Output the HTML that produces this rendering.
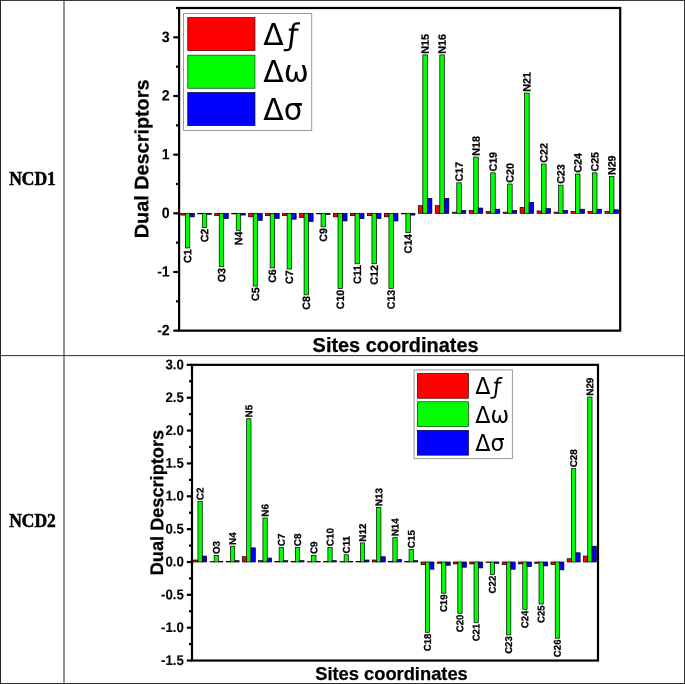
<!DOCTYPE html><html><head><meta charset="utf-8"><title>Dual Descriptors</title>
<style>html,body{margin:0;padding:0;background:#fff}svg{display:block}</style></head><body>
<svg width="685" height="684" viewBox="0 0 685 684">
<rect width="685" height="684" fill="#fff"/>
<rect x="180.80" y="213.32" width="4.52" height="1.76" fill="#f00" stroke="#000" stroke-width="0.7"/>
<rect x="185.32" y="213.32" width="4.52" height="34.61" fill="#0f0" stroke="#000" stroke-width="0.7"/>
<rect x="189.84" y="213.32" width="4.52" height="3.52" fill="#00f" stroke="#000" stroke-width="0.7"/>
<text transform="translate(191.27,249.23) rotate(-89.9) scale(1,1)" style="font-family:'Liberation Sans',sans-serif;font-weight:bold;stroke:#000;stroke-width:0.25px;font-size:10.7px" text-anchor="end">C1</text>
<rect x="197.76" y="213.32" width="4.52" height="0.59" fill="#f00" stroke="#000" stroke-width="0.7"/>
<rect x="202.29" y="213.32" width="4.52" height="14.08" fill="#0f0" stroke="#000" stroke-width="0.7"/>
<rect x="206.81" y="213.32" width="4.52" height="1.17" fill="#00f" stroke="#000" stroke-width="0.7"/>
<text transform="translate(208.24,228.70) rotate(-89.9) scale(1,1)" style="font-family:'Liberation Sans',sans-serif;font-weight:bold;stroke:#000;stroke-width:0.25px;font-size:10.7px" text-anchor="end">C2</text>
<rect x="214.73" y="213.32" width="4.52" height="2.35" fill="#f00" stroke="#000" stroke-width="0.7"/>
<rect x="219.25" y="213.32" width="4.52" height="53.38" fill="#0f0" stroke="#000" stroke-width="0.7"/>
<rect x="223.78" y="213.32" width="4.52" height="5.28" fill="#00f" stroke="#000" stroke-width="0.7"/>
<text transform="translate(225.20,268.01) rotate(-89.9) scale(1,1)" style="font-family:'Liberation Sans',sans-serif;font-weight:bold;stroke:#000;stroke-width:0.25px;font-size:10.7px" text-anchor="end">O3</text>
<rect x="231.69" y="213.32" width="4.52" height="0.59" fill="#f00" stroke="#000" stroke-width="0.7"/>
<rect x="236.22" y="213.32" width="4.52" height="17.01" fill="#0f0" stroke="#000" stroke-width="0.7"/>
<rect x="240.74" y="213.32" width="4.52" height="1.76" fill="#00f" stroke="#000" stroke-width="0.7"/>
<text transform="translate(242.17,231.64) rotate(-89.9) scale(1,1)" style="font-family:'Liberation Sans',sans-serif;font-weight:bold;stroke:#000;stroke-width:0.25px;font-size:10.7px" text-anchor="end">N4</text>
<rect x="248.66" y="213.32" width="4.52" height="3.52" fill="#f00" stroke="#000" stroke-width="0.7"/>
<rect x="253.18" y="213.32" width="4.52" height="72.74" fill="#0f0" stroke="#000" stroke-width="0.7"/>
<rect x="257.71" y="213.32" width="4.52" height="7.04" fill="#00f" stroke="#000" stroke-width="0.7"/>
<text transform="translate(259.14,287.37) rotate(-89.9) scale(1,1)" style="font-family:'Liberation Sans',sans-serif;font-weight:bold;stroke:#000;stroke-width:0.25px;font-size:10.7px" text-anchor="end">C5</text>
<rect x="265.62" y="213.32" width="4.52" height="2.35" fill="#f00" stroke="#000" stroke-width="0.7"/>
<rect x="270.15" y="213.32" width="4.52" height="54.56" fill="#0f0" stroke="#000" stroke-width="0.7"/>
<rect x="274.67" y="213.32" width="4.52" height="5.28" fill="#00f" stroke="#000" stroke-width="0.7"/>
<text transform="translate(276.10,269.18) rotate(-89.9) scale(1,1)" style="font-family:'Liberation Sans',sans-serif;font-weight:bold;stroke:#000;stroke-width:0.25px;font-size:10.7px" text-anchor="end">C6</text>
<rect x="282.59" y="213.32" width="4.52" height="2.35" fill="#f00" stroke="#000" stroke-width="0.7"/>
<rect x="287.11" y="213.32" width="4.52" height="55.73" fill="#0f0" stroke="#000" stroke-width="0.7"/>
<rect x="291.64" y="213.32" width="4.52" height="5.87" fill="#00f" stroke="#000" stroke-width="0.7"/>
<text transform="translate(293.07,270.35) rotate(-89.9) scale(1,1)" style="font-family:'Liberation Sans',sans-serif;font-weight:bold;stroke:#000;stroke-width:0.25px;font-size:10.7px" text-anchor="end">C7</text>
<rect x="299.55" y="213.32" width="4.52" height="4.11" fill="#f00" stroke="#000" stroke-width="0.7"/>
<rect x="304.08" y="213.32" width="4.52" height="81.54" fill="#0f0" stroke="#000" stroke-width="0.7"/>
<rect x="308.60" y="213.32" width="4.52" height="8.21" fill="#00f" stroke="#000" stroke-width="0.7"/>
<text transform="translate(310.03,296.17) rotate(-89.9) scale(1,1)" style="font-family:'Liberation Sans',sans-serif;font-weight:bold;stroke:#000;stroke-width:0.25px;font-size:10.7px" text-anchor="end">C8</text>
<rect x="316.52" y="213.32" width="4.52" height="0.59" fill="#f00" stroke="#000" stroke-width="0.7"/>
<rect x="321.04" y="213.32" width="4.52" height="13.49" fill="#0f0" stroke="#000" stroke-width="0.7"/>
<rect x="325.57" y="213.32" width="4.52" height="1.17" fill="#00f" stroke="#000" stroke-width="0.7"/>
<text transform="translate(327.00,228.12) rotate(-89.9) scale(1,1)" style="font-family:'Liberation Sans',sans-serif;font-weight:bold;stroke:#000;stroke-width:0.25px;font-size:10.7px" text-anchor="end">C9</text>
<rect x="333.48" y="213.32" width="4.52" height="3.52" fill="#f00" stroke="#000" stroke-width="0.7"/>
<rect x="338.01" y="213.32" width="4.52" height="75.09" fill="#0f0" stroke="#000" stroke-width="0.7"/>
<rect x="342.53" y="213.32" width="4.52" height="7.63" fill="#00f" stroke="#000" stroke-width="0.7"/>
<text transform="translate(343.96,289.71) rotate(-89.9) scale(1,1)" style="font-family:'Liberation Sans',sans-serif;font-weight:bold;stroke:#000;stroke-width:0.25px;font-size:10.7px" text-anchor="end">C10</text>
<rect x="350.45" y="213.32" width="4.52" height="2.35" fill="#f00" stroke="#000" stroke-width="0.7"/>
<rect x="354.97" y="213.32" width="4.52" height="50.45" fill="#0f0" stroke="#000" stroke-width="0.7"/>
<rect x="359.50" y="213.32" width="4.52" height="5.28" fill="#00f" stroke="#000" stroke-width="0.7"/>
<text transform="translate(360.93,265.07) rotate(-89.9) scale(1,1)" style="font-family:'Liberation Sans',sans-serif;font-weight:bold;stroke:#000;stroke-width:0.25px;font-size:10.7px" text-anchor="end">C11</text>
<rect x="367.42" y="213.32" width="4.52" height="2.35" fill="#f00" stroke="#000" stroke-width="0.7"/>
<rect x="371.94" y="213.32" width="4.52" height="50.45" fill="#0f0" stroke="#000" stroke-width="0.7"/>
<rect x="376.46" y="213.32" width="4.52" height="5.28" fill="#00f" stroke="#000" stroke-width="0.7"/>
<text transform="translate(377.89,265.07) rotate(-89.9) scale(1,1)" style="font-family:'Liberation Sans',sans-serif;font-weight:bold;stroke:#000;stroke-width:0.25px;font-size:10.7px" text-anchor="end">C12</text>
<rect x="384.38" y="213.32" width="4.52" height="3.52" fill="#f00" stroke="#000" stroke-width="0.7"/>
<rect x="388.91" y="213.32" width="4.52" height="75.09" fill="#0f0" stroke="#000" stroke-width="0.7"/>
<rect x="393.43" y="213.32" width="4.52" height="7.63" fill="#00f" stroke="#000" stroke-width="0.7"/>
<text transform="translate(394.86,289.71) rotate(-89.9) scale(1,1)" style="font-family:'Liberation Sans',sans-serif;font-weight:bold;stroke:#000;stroke-width:0.25px;font-size:10.7px" text-anchor="end">C13</text>
<rect x="401.35" y="213.32" width="4.52" height="0.59" fill="#f00" stroke="#000" stroke-width="0.7"/>
<rect x="405.87" y="213.32" width="4.52" height="19.36" fill="#0f0" stroke="#000" stroke-width="0.7"/>
<rect x="410.39" y="213.32" width="4.52" height="1.76" fill="#00f" stroke="#000" stroke-width="0.7"/>
<text transform="translate(411.82,233.98) rotate(-89.9) scale(1,1)" style="font-family:'Liberation Sans',sans-serif;font-weight:bold;stroke:#000;stroke-width:0.25px;font-size:10.7px" text-anchor="end">C14</text>
<rect x="418.31" y="205.70" width="4.52" height="7.63" fill="#f00" stroke="#000" stroke-width="0.7"/>
<rect x="422.84" y="54.93" width="4.52" height="158.39" fill="#0f0" stroke="#000" stroke-width="0.7"/>
<rect x="427.36" y="198.36" width="4.52" height="14.96" fill="#00f" stroke="#000" stroke-width="0.7"/>
<text transform="translate(428.79,53.63) rotate(-89.9) scale(1,1)" style="font-family:'Liberation Sans',sans-serif;font-weight:bold;stroke:#000;stroke-width:0.25px;font-size:10.7px" text-anchor="start">N15</text>
<rect x="435.28" y="205.70" width="4.52" height="7.63" fill="#f00" stroke="#000" stroke-width="0.7"/>
<rect x="439.80" y="54.93" width="4.52" height="158.39" fill="#0f0" stroke="#000" stroke-width="0.7"/>
<rect x="444.33" y="198.36" width="4.52" height="14.96" fill="#00f" stroke="#000" stroke-width="0.7"/>
<text transform="translate(445.75,53.63) rotate(-89.9) scale(1,1)" style="font-family:'Liberation Sans',sans-serif;font-weight:bold;stroke:#000;stroke-width:0.25px;font-size:10.7px" text-anchor="start">N16</text>
<rect x="452.24" y="212.15" width="4.52" height="1.17" fill="#f00" stroke="#000" stroke-width="0.7"/>
<rect x="456.77" y="182.82" width="4.52" height="30.51" fill="#0f0" stroke="#000" stroke-width="0.7"/>
<rect x="461.29" y="210.39" width="4.52" height="2.93" fill="#00f" stroke="#000" stroke-width="0.7"/>
<text transform="translate(462.72,181.52) rotate(-89.9) scale(1,1)" style="font-family:'Liberation Sans',sans-serif;font-weight:bold;stroke:#000;stroke-width:0.25px;font-size:10.7px" text-anchor="start">C17</text>
<rect x="469.21" y="210.39" width="4.52" height="2.93" fill="#f00" stroke="#000" stroke-width="0.7"/>
<rect x="473.73" y="157.01" width="4.52" height="56.32" fill="#0f0" stroke="#000" stroke-width="0.7"/>
<rect x="478.26" y="208.04" width="4.52" height="5.28" fill="#00f" stroke="#000" stroke-width="0.7"/>
<text transform="translate(479.69,155.71) rotate(-89.9) scale(1,1)" style="font-family:'Liberation Sans',sans-serif;font-weight:bold;stroke:#000;stroke-width:0.25px;font-size:10.7px" text-anchor="start">N18</text>
<rect x="486.17" y="211.56" width="4.52" height="1.76" fill="#f00" stroke="#000" stroke-width="0.7"/>
<rect x="490.70" y="172.84" width="4.52" height="40.48" fill="#0f0" stroke="#000" stroke-width="0.7"/>
<rect x="495.22" y="209.22" width="4.52" height="4.11" fill="#00f" stroke="#000" stroke-width="0.7"/>
<text transform="translate(496.65,171.54) rotate(-89.9) scale(1,1)" style="font-family:'Liberation Sans',sans-serif;font-weight:bold;stroke:#000;stroke-width:0.25px;font-size:10.7px" text-anchor="start">C19</text>
<rect x="503.14" y="212.15" width="4.52" height="1.17" fill="#f00" stroke="#000" stroke-width="0.7"/>
<rect x="507.66" y="183.99" width="4.52" height="29.33" fill="#0f0" stroke="#000" stroke-width="0.7"/>
<rect x="512.19" y="210.39" width="4.52" height="2.93" fill="#00f" stroke="#000" stroke-width="0.7"/>
<text transform="translate(513.62,182.69) rotate(-89.9) scale(1,1)" style="font-family:'Liberation Sans',sans-serif;font-weight:bold;stroke:#000;stroke-width:0.25px;font-size:10.7px" text-anchor="start">C20</text>
<rect x="520.10" y="207.46" width="4.52" height="5.87" fill="#f00" stroke="#000" stroke-width="0.7"/>
<rect x="524.63" y="93.06" width="4.52" height="120.26" fill="#0f0" stroke="#000" stroke-width="0.7"/>
<rect x="529.15" y="202.47" width="4.52" height="10.85" fill="#00f" stroke="#000" stroke-width="0.7"/>
<text transform="translate(530.58,91.76) rotate(-89.9) scale(1,1)" style="font-family:'Liberation Sans',sans-serif;font-weight:bold;stroke:#000;stroke-width:0.25px;font-size:10.7px" text-anchor="start">N21</text>
<rect x="537.07" y="210.98" width="4.52" height="2.35" fill="#f00" stroke="#000" stroke-width="0.7"/>
<rect x="541.59" y="164.05" width="4.52" height="49.28" fill="#0f0" stroke="#000" stroke-width="0.7"/>
<rect x="546.12" y="208.63" width="4.52" height="4.69" fill="#00f" stroke="#000" stroke-width="0.7"/>
<text transform="translate(547.55,162.75) rotate(-89.9) scale(1,1)" style="font-family:'Liberation Sans',sans-serif;font-weight:bold;stroke:#000;stroke-width:0.25px;font-size:10.7px" text-anchor="start">C22</text>
<rect x="554.03" y="212.15" width="4.52" height="1.17" fill="#f00" stroke="#000" stroke-width="0.7"/>
<rect x="558.56" y="185.16" width="4.52" height="28.16" fill="#0f0" stroke="#000" stroke-width="0.7"/>
<rect x="563.08" y="210.39" width="4.52" height="2.93" fill="#00f" stroke="#000" stroke-width="0.7"/>
<text transform="translate(564.51,183.86) rotate(-89.9) scale(1,1)" style="font-family:'Liberation Sans',sans-serif;font-weight:bold;stroke:#000;stroke-width:0.25px;font-size:10.7px" text-anchor="start">C23</text>
<rect x="571.00" y="211.56" width="4.52" height="1.76" fill="#f00" stroke="#000" stroke-width="0.7"/>
<rect x="575.52" y="174.02" width="4.52" height="39.30" fill="#0f0" stroke="#000" stroke-width="0.7"/>
<rect x="580.05" y="209.22" width="4.52" height="4.11" fill="#00f" stroke="#000" stroke-width="0.7"/>
<text transform="translate(581.48,172.72) rotate(-89.9) scale(1,1)" style="font-family:'Liberation Sans',sans-serif;font-weight:bold;stroke:#000;stroke-width:0.25px;font-size:10.7px" text-anchor="start">C24</text>
<rect x="587.97" y="211.56" width="4.52" height="1.76" fill="#f00" stroke="#000" stroke-width="0.7"/>
<rect x="592.49" y="172.84" width="4.52" height="40.48" fill="#0f0" stroke="#000" stroke-width="0.7"/>
<rect x="597.01" y="209.22" width="4.52" height="4.11" fill="#00f" stroke="#000" stroke-width="0.7"/>
<text transform="translate(598.44,171.54) rotate(-89.9) scale(1,1)" style="font-family:'Liberation Sans',sans-serif;font-weight:bold;stroke:#000;stroke-width:0.25px;font-size:10.7px" text-anchor="start">C25</text>
<rect x="604.93" y="211.56" width="4.52" height="1.76" fill="#f00" stroke="#000" stroke-width="0.7"/>
<rect x="609.46" y="176.36" width="4.52" height="36.96" fill="#0f0" stroke="#000" stroke-width="0.7"/>
<rect x="613.98" y="209.80" width="4.52" height="3.52" fill="#00f" stroke="#000" stroke-width="0.7"/>
<text transform="translate(615.41,175.06) rotate(-89.9) scale(1,1)" style="font-family:'Liberation Sans',sans-serif;font-weight:bold;stroke:#000;stroke-width:0.25px;font-size:10.7px" text-anchor="start">N29</text>
<rect x="179.1" y="8.0" width="441.1" height="322.65" fill="none" stroke="#000" stroke-width="2.2"/>
<line x1="173.29999999999998" y1="330.65" x2="179.1" y2="330.65" stroke="#000" stroke-width="2.2"/>
<text transform="translate(169.7,335.22) rotate(0.1) scale(0.94,1)" text-anchor="end" style="font-family:'Liberation Sans',sans-serif;font-weight:bold;stroke:#000;stroke-width:0.25px;stroke-width:0.1px;font-size:15px">-2</text>
<line x1="176.0" y1="301.32" x2="179.1" y2="301.32" stroke="#000" stroke-width="2.2"/>
<line x1="173.29999999999998" y1="271.99" x2="179.1" y2="271.99" stroke="#000" stroke-width="2.2"/>
<text transform="translate(169.7,276.56) rotate(0.1) scale(0.94,1)" text-anchor="end" style="font-family:'Liberation Sans',sans-serif;font-weight:bold;stroke:#000;stroke-width:0.25px;stroke-width:0.1px;font-size:15px">-1</text>
<line x1="176.0" y1="242.65" x2="179.1" y2="242.65" stroke="#000" stroke-width="2.2"/>
<line x1="173.29999999999998" y1="213.32" x2="179.1" y2="213.32" stroke="#000" stroke-width="2.2"/>
<text transform="translate(169.7,217.89) rotate(0.1) scale(0.94,1)" text-anchor="end" style="font-family:'Liberation Sans',sans-serif;font-weight:bold;stroke:#000;stroke-width:0.25px;stroke-width:0.1px;font-size:15px">0</text>
<line x1="176.0" y1="183.99" x2="179.1" y2="183.99" stroke="#000" stroke-width="2.2"/>
<line x1="173.29999999999998" y1="154.66" x2="179.1" y2="154.66" stroke="#000" stroke-width="2.2"/>
<text transform="translate(169.7,159.23) rotate(0.1) scale(0.94,1)" text-anchor="end" style="font-family:'Liberation Sans',sans-serif;font-weight:bold;stroke:#000;stroke-width:0.25px;stroke-width:0.1px;font-size:15px">1</text>
<line x1="176.0" y1="125.33" x2="179.1" y2="125.33" stroke="#000" stroke-width="2.2"/>
<line x1="173.29999999999998" y1="96.00" x2="179.1" y2="96.00" stroke="#000" stroke-width="2.2"/>
<text transform="translate(169.7,100.57) rotate(0.1) scale(0.94,1)" text-anchor="end" style="font-family:'Liberation Sans',sans-serif;font-weight:bold;stroke:#000;stroke-width:0.25px;stroke-width:0.1px;font-size:15px">2</text>
<line x1="176.0" y1="66.66" x2="179.1" y2="66.66" stroke="#000" stroke-width="2.2"/>
<line x1="173.29999999999998" y1="37.33" x2="179.1" y2="37.33" stroke="#000" stroke-width="2.2"/>
<text transform="translate(169.7,41.90) rotate(0.1) scale(0.94,1)" text-anchor="end" style="font-family:'Liberation Sans',sans-serif;font-weight:bold;stroke:#000;stroke-width:0.25px;stroke-width:0.1px;font-size:15px">3</text>
<line x1="176.0" y1="8.00" x2="179.1" y2="8.00" stroke="#000" stroke-width="2.2"/>
<rect x="193.62" y="560.01" width="4.33" height="1.97" fill="#f00" stroke="#000" stroke-width="0.7"/>
<rect x="197.95" y="501.53" width="4.33" height="60.45" fill="#0f0" stroke="#000" stroke-width="0.7"/>
<rect x="202.29" y="556.07" width="4.33" height="5.91" fill="#00f" stroke="#000" stroke-width="0.7"/>
<text transform="translate(203.54,500.23) rotate(-89.9) scale(1.0,1)" style="font-family:'Liberation Sans',sans-serif;font-weight:bold;stroke:#000;stroke-width:0.25px;font-size:9.9px" text-anchor="start">C2</text>
<rect x="209.86" y="561.65" width="4.33" height="0.33" fill="#f00" stroke="#000" stroke-width="0.7"/>
<rect x="214.19" y="555.41" width="4.33" height="6.57" fill="#0f0" stroke="#000" stroke-width="0.7"/>
<rect x="218.53" y="561.33" width="4.33" height="0.66" fill="#00f" stroke="#000" stroke-width="0.7"/>
<text transform="translate(219.78,554.11) rotate(-89.9) scale(1.0,1)" style="font-family:'Liberation Sans',sans-serif;font-weight:bold;stroke:#000;stroke-width:0.25px;font-size:9.9px" text-anchor="start">O3</text>
<rect x="226.10" y="561.33" width="4.33" height="0.66" fill="#f00" stroke="#000" stroke-width="0.7"/>
<rect x="230.43" y="546.21" width="4.33" height="15.77" fill="#0f0" stroke="#000" stroke-width="0.7"/>
<rect x="234.77" y="560.67" width="4.33" height="1.31" fill="#00f" stroke="#000" stroke-width="0.7"/>
<text transform="translate(236.02,544.91) rotate(-89.9) scale(1.0,1)" style="font-family:'Liberation Sans',sans-serif;font-weight:bold;stroke:#000;stroke-width:0.25px;font-size:9.9px" text-anchor="start">N4</text>
<rect x="242.34" y="556.73" width="4.33" height="5.26" fill="#f00" stroke="#000" stroke-width="0.7"/>
<rect x="246.67" y="418.73" width="4.33" height="143.25" fill="#0f0" stroke="#000" stroke-width="0.7"/>
<rect x="251.01" y="547.86" width="4.33" height="14.13" fill="#00f" stroke="#000" stroke-width="0.7"/>
<text transform="translate(252.26,417.43) rotate(-89.9) scale(1.0,1)" style="font-family:'Liberation Sans',sans-serif;font-weight:bold;stroke:#000;stroke-width:0.25px;font-size:9.9px" text-anchor="start">N5</text>
<rect x="258.58" y="560.67" width="4.33" height="1.31" fill="#f00" stroke="#000" stroke-width="0.7"/>
<rect x="262.91" y="517.96" width="4.33" height="44.03" fill="#0f0" stroke="#000" stroke-width="0.7"/>
<rect x="267.25" y="558.04" width="4.33" height="3.94" fill="#00f" stroke="#000" stroke-width="0.7"/>
<text transform="translate(268.50,516.66) rotate(-89.9) scale(1.0,1)" style="font-family:'Liberation Sans',sans-serif;font-weight:bold;stroke:#000;stroke-width:0.25px;font-size:9.9px" text-anchor="start">N6</text>
<rect x="274.82" y="561.33" width="4.33" height="0.66" fill="#f00" stroke="#000" stroke-width="0.7"/>
<rect x="279.15" y="547.53" width="4.33" height="14.46" fill="#0f0" stroke="#000" stroke-width="0.7"/>
<rect x="283.49" y="560.67" width="4.33" height="1.31" fill="#00f" stroke="#000" stroke-width="0.7"/>
<text transform="translate(284.74,546.23) rotate(-89.9) scale(1.0,1)" style="font-family:'Liberation Sans',sans-serif;font-weight:bold;stroke:#000;stroke-width:0.25px;font-size:9.9px" text-anchor="start">C7</text>
<rect x="291.06" y="561.33" width="4.33" height="0.66" fill="#f00" stroke="#000" stroke-width="0.7"/>
<rect x="295.39" y="547.53" width="4.33" height="14.46" fill="#0f0" stroke="#000" stroke-width="0.7"/>
<rect x="299.73" y="560.67" width="4.33" height="1.31" fill="#00f" stroke="#000" stroke-width="0.7"/>
<text transform="translate(300.98,546.23) rotate(-89.9) scale(1.0,1)" style="font-family:'Liberation Sans',sans-serif;font-weight:bold;stroke:#000;stroke-width:0.25px;font-size:9.9px" text-anchor="start">C8</text>
<rect x="307.30" y="561.65" width="4.33" height="0.33" fill="#f00" stroke="#000" stroke-width="0.7"/>
<rect x="311.63" y="555.41" width="4.33" height="6.57" fill="#0f0" stroke="#000" stroke-width="0.7"/>
<rect x="315.97" y="561.33" width="4.33" height="0.66" fill="#00f" stroke="#000" stroke-width="0.7"/>
<text transform="translate(317.22,554.11) rotate(-89.9) scale(1.0,1)" style="font-family:'Liberation Sans',sans-serif;font-weight:bold;stroke:#000;stroke-width:0.25px;font-size:9.9px" text-anchor="start">C9</text>
<rect x="323.54" y="561.33" width="4.33" height="0.66" fill="#f00" stroke="#000" stroke-width="0.7"/>
<rect x="327.87" y="547.53" width="4.33" height="14.46" fill="#0f0" stroke="#000" stroke-width="0.7"/>
<rect x="332.21" y="560.67" width="4.33" height="1.31" fill="#00f" stroke="#000" stroke-width="0.7"/>
<text transform="translate(333.46,546.23) rotate(-89.9) scale(1.0,1)" style="font-family:'Liberation Sans',sans-serif;font-weight:bold;stroke:#000;stroke-width:0.25px;font-size:9.9px" text-anchor="start">C10</text>
<rect x="339.78" y="561.65" width="4.33" height="0.33" fill="#f00" stroke="#000" stroke-width="0.7"/>
<rect x="344.11" y="554.76" width="4.33" height="7.23" fill="#0f0" stroke="#000" stroke-width="0.7"/>
<rect x="348.45" y="561.33" width="4.33" height="0.66" fill="#00f" stroke="#000" stroke-width="0.7"/>
<text transform="translate(349.70,553.46) rotate(-89.9) scale(1.0,1)" style="font-family:'Liberation Sans',sans-serif;font-weight:bold;stroke:#000;stroke-width:0.25px;font-size:9.9px" text-anchor="start">C11</text>
<rect x="356.02" y="561.33" width="4.33" height="0.66" fill="#f00" stroke="#000" stroke-width="0.7"/>
<rect x="360.35" y="542.93" width="4.33" height="19.06" fill="#0f0" stroke="#000" stroke-width="0.7"/>
<rect x="364.69" y="560.01" width="4.33" height="1.97" fill="#00f" stroke="#000" stroke-width="0.7"/>
<text transform="translate(365.94,541.63) rotate(-89.9) scale(1.0,1)" style="font-family:'Liberation Sans',sans-serif;font-weight:bold;stroke:#000;stroke-width:0.25px;font-size:9.9px" text-anchor="start">N12</text>
<rect x="372.26" y="560.01" width="4.33" height="1.97" fill="#f00" stroke="#000" stroke-width="0.7"/>
<rect x="376.59" y="507.44" width="4.33" height="54.54" fill="#0f0" stroke="#000" stroke-width="0.7"/>
<rect x="380.93" y="556.73" width="4.33" height="5.26" fill="#00f" stroke="#000" stroke-width="0.7"/>
<text transform="translate(382.18,506.14) rotate(-89.9) scale(1.0,1)" style="font-family:'Liberation Sans',sans-serif;font-weight:bold;stroke:#000;stroke-width:0.25px;font-size:9.9px" text-anchor="start">N13</text>
<rect x="388.50" y="561.33" width="4.33" height="0.66" fill="#f00" stroke="#000" stroke-width="0.7"/>
<rect x="392.83" y="537.67" width="4.33" height="24.31" fill="#0f0" stroke="#000" stroke-width="0.7"/>
<rect x="397.17" y="559.35" width="4.33" height="2.63" fill="#00f" stroke="#000" stroke-width="0.7"/>
<text transform="translate(398.42,536.37) rotate(-89.9) scale(1.0,1)" style="font-family:'Liberation Sans',sans-serif;font-weight:bold;stroke:#000;stroke-width:0.25px;font-size:9.9px" text-anchor="start">N14</text>
<rect x="404.74" y="561.33" width="4.33" height="0.66" fill="#f00" stroke="#000" stroke-width="0.7"/>
<rect x="409.07" y="549.50" width="4.33" height="12.49" fill="#0f0" stroke="#000" stroke-width="0.7"/>
<rect x="413.41" y="560.67" width="4.33" height="1.31" fill="#00f" stroke="#000" stroke-width="0.7"/>
<text transform="translate(414.66,548.20) rotate(-89.9) scale(1.0,1)" style="font-family:'Liberation Sans',sans-serif;font-weight:bold;stroke:#000;stroke-width:0.25px;font-size:9.9px" text-anchor="start">C15</text>
<rect x="420.98" y="561.98" width="4.33" height="2.63" fill="#f00" stroke="#000" stroke-width="0.7"/>
<rect x="425.31" y="561.98" width="4.33" height="70.31" fill="#0f0" stroke="#000" stroke-width="0.7"/>
<rect x="429.65" y="561.98" width="4.33" height="7.23" fill="#00f" stroke="#000" stroke-width="0.7"/>
<text transform="translate(430.90,633.59) rotate(-89.9) scale(0.97,1)" style="font-family:'Liberation Sans',sans-serif;font-weight:bold;stroke:#000;stroke-width:0.25px;font-size:9.9px" text-anchor="end">C18</text>
<rect x="437.22" y="561.98" width="4.33" height="1.31" fill="#f00" stroke="#000" stroke-width="0.7"/>
<rect x="441.55" y="561.98" width="4.33" height="31.21" fill="#0f0" stroke="#000" stroke-width="0.7"/>
<rect x="445.89" y="561.98" width="4.33" height="3.29" fill="#00f" stroke="#000" stroke-width="0.7"/>
<text transform="translate(447.14,594.50) rotate(-89.9) scale(0.97,1)" style="font-family:'Liberation Sans',sans-serif;font-weight:bold;stroke:#000;stroke-width:0.25px;font-size:9.9px" text-anchor="end">C19</text>
<rect x="453.46" y="561.98" width="4.33" height="1.97" fill="#f00" stroke="#000" stroke-width="0.7"/>
<rect x="457.79" y="561.98" width="4.33" height="51.25" fill="#0f0" stroke="#000" stroke-width="0.7"/>
<rect x="462.13" y="561.98" width="4.33" height="5.26" fill="#00f" stroke="#000" stroke-width="0.7"/>
<text transform="translate(463.38,614.54) rotate(-89.9) scale(0.97,1)" style="font-family:'Liberation Sans',sans-serif;font-weight:bold;stroke:#000;stroke-width:0.25px;font-size:9.9px" text-anchor="end">C20</text>
<rect x="469.70" y="561.98" width="4.33" height="1.97" fill="#f00" stroke="#000" stroke-width="0.7"/>
<rect x="474.03" y="561.98" width="4.33" height="60.45" fill="#0f0" stroke="#000" stroke-width="0.7"/>
<rect x="478.37" y="561.98" width="4.33" height="5.91" fill="#00f" stroke="#000" stroke-width="0.7"/>
<text transform="translate(479.62,623.74) rotate(-89.9) scale(0.97,1)" style="font-family:'Liberation Sans',sans-serif;font-weight:bold;stroke:#000;stroke-width:0.25px;font-size:9.9px" text-anchor="end">C21</text>
<rect x="485.94" y="561.98" width="4.33" height="0.66" fill="#f00" stroke="#000" stroke-width="0.7"/>
<rect x="490.27" y="561.98" width="4.33" height="12.49" fill="#0f0" stroke="#000" stroke-width="0.7"/>
<rect x="494.61" y="561.98" width="4.33" height="1.31" fill="#00f" stroke="#000" stroke-width="0.7"/>
<text transform="translate(495.86,575.77) rotate(-89.9) scale(0.97,1)" style="font-family:'Liberation Sans',sans-serif;font-weight:bold;stroke:#000;stroke-width:0.25px;font-size:9.9px" text-anchor="end">C22</text>
<rect x="502.18" y="561.98" width="4.33" height="2.63" fill="#f00" stroke="#000" stroke-width="0.7"/>
<rect x="506.51" y="561.98" width="4.33" height="72.94" fill="#0f0" stroke="#000" stroke-width="0.7"/>
<rect x="510.85" y="561.98" width="4.33" height="7.23" fill="#00f" stroke="#000" stroke-width="0.7"/>
<text transform="translate(512.10,636.22) rotate(-89.9) scale(0.97,1)" style="font-family:'Liberation Sans',sans-serif;font-weight:bold;stroke:#000;stroke-width:0.25px;font-size:9.9px" text-anchor="end">C23</text>
<rect x="518.42" y="561.98" width="4.33" height="1.97" fill="#f00" stroke="#000" stroke-width="0.7"/>
<rect x="522.75" y="561.98" width="4.33" height="47.31" fill="#0f0" stroke="#000" stroke-width="0.7"/>
<rect x="527.09" y="561.98" width="4.33" height="4.60" fill="#00f" stroke="#000" stroke-width="0.7"/>
<text transform="translate(528.34,610.60) rotate(-89.9) scale(0.97,1)" style="font-family:'Liberation Sans',sans-serif;font-weight:bold;stroke:#000;stroke-width:0.25px;font-size:9.9px" text-anchor="end">C24</text>
<rect x="534.66" y="561.98" width="4.33" height="1.31" fill="#f00" stroke="#000" stroke-width="0.7"/>
<rect x="538.99" y="561.98" width="4.33" height="42.06" fill="#0f0" stroke="#000" stroke-width="0.7"/>
<rect x="543.33" y="561.98" width="4.33" height="3.94" fill="#00f" stroke="#000" stroke-width="0.7"/>
<text transform="translate(544.58,605.34) rotate(-89.9) scale(0.97,1)" style="font-family:'Liberation Sans',sans-serif;font-weight:bold;stroke:#000;stroke-width:0.25px;font-size:9.9px" text-anchor="end">C25</text>
<rect x="550.90" y="561.98" width="4.33" height="2.63" fill="#f00" stroke="#000" stroke-width="0.7"/>
<rect x="555.23" y="561.98" width="4.33" height="76.22" fill="#0f0" stroke="#000" stroke-width="0.7"/>
<rect x="559.57" y="561.98" width="4.33" height="7.89" fill="#00f" stroke="#000" stroke-width="0.7"/>
<text transform="translate(560.82,639.51) rotate(-89.9) scale(0.97,1)" style="font-family:'Liberation Sans',sans-serif;font-weight:bold;stroke:#000;stroke-width:0.25px;font-size:9.9px" text-anchor="end">C26</text>
<rect x="567.14" y="558.70" width="4.33" height="3.29" fill="#f00" stroke="#000" stroke-width="0.7"/>
<rect x="571.47" y="468.67" width="4.33" height="93.31" fill="#0f0" stroke="#000" stroke-width="0.7"/>
<rect x="575.81" y="552.78" width="4.33" height="9.20" fill="#00f" stroke="#000" stroke-width="0.7"/>
<text transform="translate(577.06,467.37) rotate(-89.9) scale(1.0,1)" style="font-family:'Liberation Sans',sans-serif;font-weight:bold;stroke:#000;stroke-width:0.25px;font-size:9.9px" text-anchor="start">C28</text>
<rect x="583.38" y="556.07" width="4.33" height="5.91" fill="#f00" stroke="#000" stroke-width="0.7"/>
<rect x="587.71" y="397.05" width="4.33" height="164.93" fill="#0f0" stroke="#000" stroke-width="0.7"/>
<rect x="592.05" y="546.21" width="4.33" height="15.77" fill="#00f" stroke="#000" stroke-width="0.7"/>
<text transform="translate(593.30,395.75) rotate(-89.9) scale(1.0,1)" style="font-family:'Liberation Sans',sans-serif;font-weight:bold;stroke:#000;stroke-width:0.25px;font-size:9.9px" text-anchor="start">N29</text>
<rect x="192.0" y="364.85" width="406.0" height="295.69999999999993" fill="none" stroke="#000" stroke-width="2.2"/>
<line x1="186.8" y1="660.55" x2="192.0" y2="660.55" stroke="#000" stroke-width="2.2"/>
<text transform="translate(183.8,664.91) rotate(0.1) scale(0.945,1)" text-anchor="end" style="font-family:'Liberation Sans',sans-serif;font-weight:bold;stroke:#000;stroke-width:0.25px;stroke-width:0.1px;font-size:14px">-1.5</text>
<line x1="189.0" y1="644.12" x2="192.0" y2="644.12" stroke="#000" stroke-width="2.2"/>
<line x1="186.8" y1="627.69" x2="192.0" y2="627.69" stroke="#000" stroke-width="2.2"/>
<text transform="translate(183.8,632.06) rotate(0.1) scale(0.945,1)" text-anchor="end" style="font-family:'Liberation Sans',sans-serif;font-weight:bold;stroke:#000;stroke-width:0.25px;stroke-width:0.1px;font-size:14px">-1.0</text>
<line x1="189.0" y1="611.27" x2="192.0" y2="611.27" stroke="#000" stroke-width="2.2"/>
<line x1="186.8" y1="594.84" x2="192.0" y2="594.84" stroke="#000" stroke-width="2.2"/>
<text transform="translate(183.8,599.20) rotate(0.1) scale(0.945,1)" text-anchor="end" style="font-family:'Liberation Sans',sans-serif;font-weight:bold;stroke:#000;stroke-width:0.25px;stroke-width:0.1px;font-size:14px">-0.5</text>
<line x1="189.0" y1="578.41" x2="192.0" y2="578.41" stroke="#000" stroke-width="2.2"/>
<line x1="186.8" y1="561.98" x2="192.0" y2="561.98" stroke="#000" stroke-width="2.2"/>
<text transform="translate(183.8,566.35) rotate(0.1) scale(0.945,1)" text-anchor="end" style="font-family:'Liberation Sans',sans-serif;font-weight:bold;stroke:#000;stroke-width:0.25px;stroke-width:0.1px;font-size:14px">0.0</text>
<line x1="189.0" y1="545.56" x2="192.0" y2="545.56" stroke="#000" stroke-width="2.2"/>
<line x1="186.8" y1="529.13" x2="192.0" y2="529.13" stroke="#000" stroke-width="2.2"/>
<text transform="translate(183.8,533.49) rotate(0.1) scale(0.945,1)" text-anchor="end" style="font-family:'Liberation Sans',sans-serif;font-weight:bold;stroke:#000;stroke-width:0.25px;stroke-width:0.1px;font-size:14px">0.5</text>
<line x1="189.0" y1="512.70" x2="192.0" y2="512.70" stroke="#000" stroke-width="2.2"/>
<line x1="186.8" y1="496.27" x2="192.0" y2="496.27" stroke="#000" stroke-width="2.2"/>
<text transform="translate(183.8,500.63) rotate(0.1) scale(0.945,1)" text-anchor="end" style="font-family:'Liberation Sans',sans-serif;font-weight:bold;stroke:#000;stroke-width:0.25px;stroke-width:0.1px;font-size:14px">1.0</text>
<line x1="189.0" y1="479.84" x2="192.0" y2="479.84" stroke="#000" stroke-width="2.2"/>
<line x1="186.8" y1="463.42" x2="192.0" y2="463.42" stroke="#000" stroke-width="2.2"/>
<text transform="translate(183.8,467.78) rotate(0.1) scale(0.945,1)" text-anchor="end" style="font-family:'Liberation Sans',sans-serif;font-weight:bold;stroke:#000;stroke-width:0.25px;stroke-width:0.1px;font-size:14px">1.5</text>
<line x1="189.0" y1="446.99" x2="192.0" y2="446.99" stroke="#000" stroke-width="2.2"/>
<line x1="186.8" y1="430.56" x2="192.0" y2="430.56" stroke="#000" stroke-width="2.2"/>
<text transform="translate(183.8,434.92) rotate(0.1) scale(0.945,1)" text-anchor="end" style="font-family:'Liberation Sans',sans-serif;font-weight:bold;stroke:#000;stroke-width:0.25px;stroke-width:0.1px;font-size:14px">2.0</text>
<line x1="189.0" y1="414.13" x2="192.0" y2="414.13" stroke="#000" stroke-width="2.2"/>
<line x1="186.8" y1="397.71" x2="192.0" y2="397.71" stroke="#000" stroke-width="2.2"/>
<text transform="translate(183.8,402.07) rotate(0.1) scale(0.945,1)" text-anchor="end" style="font-family:'Liberation Sans',sans-serif;font-weight:bold;stroke:#000;stroke-width:0.25px;stroke-width:0.1px;font-size:14px">2.5</text>
<line x1="189.0" y1="381.28" x2="192.0" y2="381.28" stroke="#000" stroke-width="2.2"/>
<line x1="186.8" y1="364.85" x2="192.0" y2="364.85" stroke="#000" stroke-width="2.2"/>
<text transform="translate(183.8,369.21) rotate(0.1) scale(0.945,1)" text-anchor="end" style="font-family:'Liberation Sans',sans-serif;font-weight:bold;stroke:#000;stroke-width:0.25px;stroke-width:0.1px;font-size:14px">3.0</text>
<text x="395.6" y="351.6" text-anchor="middle" textLength="166" lengthAdjust="spacingAndGlyphs" style="font-family:'Liberation Sans',sans-serif;font-weight:bold;stroke:#000;stroke-width:0.25px;font-size:19.5px">Sites coordinates</text>
<text transform="translate(148.4,158.9) rotate(-89.9)" text-anchor="middle" textLength="158.8" lengthAdjust="spacingAndGlyphs" style="font-family:'Liberation Sans',sans-serif;font-weight:bold;stroke:#000;stroke-width:0.25px;font-size:19.5px">Dual Descriptors</text>
<text x="391.5" y="679.6" text-anchor="middle" textLength="152.6" lengthAdjust="spacingAndGlyphs" style="font-family:'Liberation Sans',sans-serif;font-weight:bold;stroke:#000;stroke-width:0.25px;font-size:18.2px">Sites coordinates</text>
<text transform="translate(163.2,502.6) rotate(-89.9)" text-anchor="middle" textLength="145.3" lengthAdjust="spacingAndGlyphs" style="font-family:'Liberation Sans',sans-serif;font-weight:bold;stroke:#000;stroke-width:0.25px;font-size:18.2px">Dual Descriptors</text>
<rect x="183.5" y="13.5" width="128.2" height="117" fill="#fff" stroke="#999" stroke-width="1"/>
<rect x="187.75" y="17.55" width="67.20" height="33.10" fill="#f00" stroke="#400" stroke-width="0.7"/>
<text x="263.2" y="44.8" style="font-family:'DejaVu Sans',sans-serif;font-size:30px">Δ</text>
<text transform="translate(286.15,44.8) skewX(-7)" style="font-family:'DejaVu Sans',sans-serif;font-size:30px">ƒ</text>
<rect x="187.75" y="55.15" width="67.20" height="33.10" fill="#0f0" stroke="#040" stroke-width="0.7"/>
<text x="263.2" y="81.8" style="font-family:'DejaVu Sans',sans-serif;font-size:30px">Δω</text>
<rect x="187.75" y="92.55" width="67.20" height="33.10" fill="#00f" stroke="#004" stroke-width="0.7"/>
<text x="263.2" y="119.8" style="font-family:'DejaVu Sans',sans-serif;font-size:30px">Δσ</text>
<rect x="414.1" y="369.9" width="98.3" height="88.7" fill="#fff" stroke="#999" stroke-width="1"/>
<rect x="417.35" y="373.45" width="51.10" height="24.80" fill="#f00" stroke="#400" stroke-width="0.7"/>
<text x="475.3" y="393.6" style="font-family:'DejaVu Sans',sans-serif;font-size:22.3px">Δ</text>
<text transform="translate(492.36,393.6) skewX(-7)" style="font-family:'DejaVu Sans',sans-serif;font-size:22.3px">ƒ</text>
<rect x="417.35" y="401.75" width="51.10" height="24.80" fill="#0f0" stroke="#040" stroke-width="0.7"/>
<text x="475.3" y="422.6" style="font-family:'DejaVu Sans',sans-serif;font-size:22.3px">Δω</text>
<rect x="417.35" y="430.35" width="51.10" height="24.80" fill="#00f" stroke="#004" stroke-width="0.7"/>
<text x="475.3" y="450.9" style="font-family:'DejaVu Sans',sans-serif;font-size:22.3px">Δσ</text>
<text x="9.2" y="185.0" textLength="46.6" lengthAdjust="spacingAndGlyphs" style="font-family:'Liberation Serif',serif;font-weight:bold;stroke:#000;stroke-width:0.55px;font-size:19.3px">NCD1</text>
<text x="9.2" y="526.6" textLength="46.6" lengthAdjust="spacingAndGlyphs" style="font-family:'Liberation Serif',serif;font-weight:bold;stroke:#000;stroke-width:0.55px;font-size:19.3px">NCD2</text>
<rect x="0" y="356" width="685" height="1" fill="#e6e6e6"/>
<rect x="63" y="0" width="2" height="684" fill="#939393"/>
<rect x="0" y="355" width="685" height="1" fill="#454545"/>
<rect x="0" y="0" width="685" height="1" fill="#3c3c3c"/>
<rect x="0" y="683" width="685" height="1" fill="#303030"/>
<rect x="0" y="0" width="1" height="684" fill="#262626"/>
<rect x="684" y="0" width="1" height="684" fill="#343434"/>
</svg></body></html>
